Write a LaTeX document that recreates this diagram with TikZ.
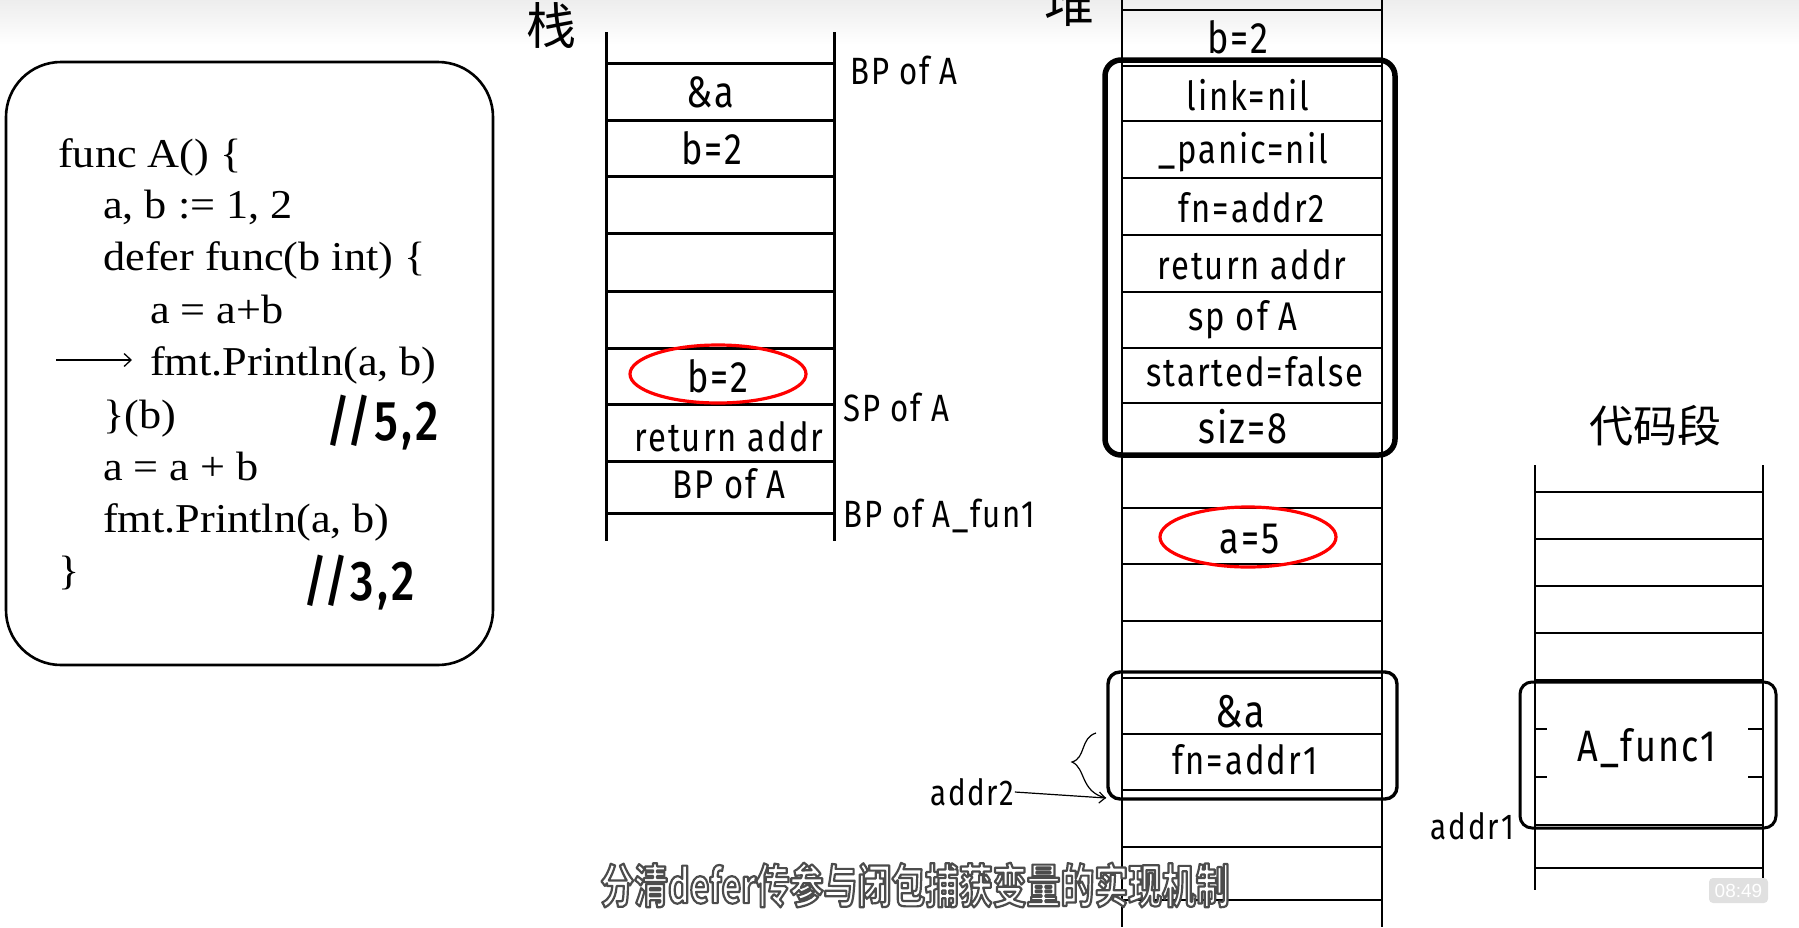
\documentclass[tikz,border=0pt]{standalone}
\usepackage{fontspec}
\setmainfont[FakeStretch=1.08]{Liberation Serif}
\newfontfamily\hand[FakeStretch=0.82,LetterSpace=5]{Fira Sans}
\newfontfamily\handb[FakeStretch=0.82,LetterSpace=6]{Fira Sans Medium}
\newfontfamily\cjk{Noto Sans CJK SC}
\newfontfamily\subcjk[FakeStretch=0.72]{Noto Sans CJK SC Bold}
\newfontfamily\uisans{Liberation Sans}
\usetikzlibrary{arrows.meta,shapes.geometric,calc}
\newcommand\setfs[1]{\fontsize{#1}{#1}\selectfont}
\begin{document}
\begin{tikzpicture}[x=1pt,y=-1pt,
  code/.style={anchor=base west,inner sep=0pt,font=\setfs{41}},
  cell/.style={inner sep=0pt,font=\hand\setfs{40}},
  big/.style={inner sep=0pt,font=\hand\setfs{44}},
  lbl/.style={inner sep=0pt,font=\hand\setfs{38}},
  small/.style={inner sep=0pt,font=\hand\setfs{36}},
  note/.style={anchor=base west,inner sep=0pt,font=\handb\setfs{56}},
  title/.style={anchor=base,inner sep=0pt,font=\cjk\setfs{50}},
  stk/.style={line width=3pt},
  hp/.style={line width=2.2pt},
  cs/.style={line width=2.6pt},
  hl/.style={draw=red,line width=3.2pt,ellipse,inner sep=0pt},
  grp/.style={line width=3.4pt,rounded corners=12pt},
]
\useasboundingbox (0,0) rectangle (1799,927);
\shade[top color=black!7,bottom color=white] (0,0) rectangle (1799,45);

% ---------- code box ----------
\draw[line width=2.6pt,rounded corners=55pt] (6,62) rectangle (493,665);
\node[code] (c1) at (58,167) {func A() \{};
\node[code] (c2) at (103,218) {a, b := 1, 2};
\node[code] (c3) at (103,270) {defer func(b int) \{};
\node[code] (c4) at (150,323) {a = a+b};
\node[code] (c5) at (150,375) {fmt.Println(a, b)};
\node[code] (c6) at (103,428) {\}(b)};
\node[code] (c7) at (103,480) {a = a + b};
\node[code] (c8) at (103,532) {fmt.Println(a, b)};
\node[code] (c9) at (58,584) {\}};
\coordinate (pa) at (56,360);
\coordinate (pb) at (132,360);
\draw[line width=1.3pt,-{Straight Barb[length=7pt,width=13pt]}] (pa) -- (pb);
\node[note] (r1) at (326,440) {//5,2};
\node[note] (r2) at (303,600) {//3,2};

% ---------- stack ----------
\node[title] (tz) at (551,44) {栈};
\draw[stk] (606,32) -- (606,541);
\draw[stk] (834,32) -- (834,541);
\foreach \y in {63.6,120.7,176.8,233.2,291.8,348.2,404.3,461.4,513.6}
  \draw[stk] (606,\y) -- (834,\y);
\node[big] (s1) at (710,92) {\&a};
\node[big] (s2) at (712,148) {b=2};
\node[big] (s6) at (718,376) {b=2};
\node[hl,minimum width=176pt,minimum height=58pt] (e1) at (718,374) {};
\node[cell] (s7) at (729,437) {return addr};
\node[cell] (s8) at (729,484) {BP of A};
\node[lbl,anchor=west] (l1) at (850,70) {BP of A};
\node[lbl,anchor=west] (l2) at (843,407) {SP of A};
\node[lbl,anchor=west] (l3) at (843,516) {BP of A\_fun1};

% ---------- heap ----------
\node[title] (td) at (1069,22) {堆};
\draw[hp] (1122,0) -- (1122,927);
\draw[hp] (1382,0) -- (1382,927);
\foreach \y in {10,66,121,178,235,292,348,403,455,508,564,621,678,734,790,847,900}
  \draw[hp] (1122,\y) -- (1382,\y);
\node[big] (h0) at (1238,37) {b=2};
\node[cell] (h1) at (1248,95) {link=nil};
\node[cell] (h2) at (1243,152) {\_panic=nil};
\node[cell] (h3) at (1252,208) {fn=addr2};
\node[cell] (h4) at (1252,265) {return addr};
\node[cell] (h5) at (1243,320) {sp of A};
\node[cell] (h6) at (1255,372) {started=false};
\node[big] (h7) at (1243,427) {siz=8};
\draw[line width=5.5pt,rounded corners=16pt] (1105,60) rectangle (1395,455);
\node[big] (h9) at (1250,539) {a=5};
\node[hl,minimum width=176pt,minimum height=60pt] (e2) at (1248,537) {};
\draw[grp] (1108,672) rectangle (1397,799);
\coordinate (g2) at (1106,798);
\node[big,font=\hand\setfs{46}] (h12) at (1240,712) {\&a};
\node[cell] (h13) at (1245,760) {fn=addr1};
\node[small,anchor=west] (ad2) at (930,792) {addr2};
\draw[line width=1.2pt,-{Straight Barb[length=6pt,width=11pt]}] (ad2.east) -- (g2);
\draw[line width=1.2pt] (1096,733) .. controls (1080,738) and (1086,758) .. (1072,762)
  .. controls (1086,768) and (1080,792) .. (g2);

% ---------- code segment ----------
\node[title,font=\cjk\setfs{44}] (tc) at (1655,442) {代码段};
\draw[cs] (1535,465) -- (1535,890);
\draw[cs] (1763,465) -- (1763,890);
\foreach \y in {492,539,586,633,680,825,868}
  \draw[cs] (1535,\y) -- (1763,\y);
\foreach \y in {729,777} {
  \draw[cs] (1535,\y) -- (1547,\y);
  \draw[cs] (1748,\y) -- (1763,\y);
}
\draw[line width=3pt,rounded corners=12pt] (1520,682) rectangle (1776,828);
\node[big] (f1) at (1647,748) {A\_func1};
\node[small,anchor=east] (ad1) at (1514,826) {addr1};

% ---------- overlays ----------
\draw[fill=black!12,draw=none,rounded corners=4pt] (1709,878) rectangle (1768,903);
\node[inner sep=0pt,text=white,font=\uisans\setfs{19}] (ts) at (1738.5,890.5) {08:49};
\node[inner sep=0pt,text=white,font=\subcjk\setfs{47}] (sub) at (915,885)
  {\special{pdf:literal direct 0.3 G 2.2 w 1 j 2 Tr}分清defer传参与闭包捕获变量的实现机制\special{pdf:literal direct 0 Tr}};
\end{tikzpicture}
\end{document}
